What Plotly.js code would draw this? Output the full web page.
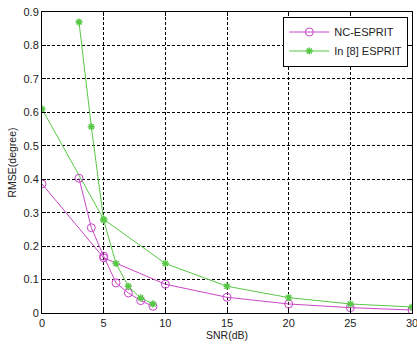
<!DOCTYPE html>
<html><head><meta charset="utf-8">
<script src="https://cdn.plot.ly/plotly-3.0.1.min.js"></script>
<style>body{margin:0;background:#fff}#c{width:417px;height:346px}</style>
</head><body><div id="c"></div>
<script>
const snrCoarse = [0, 5, 10, 15, 20, 25, 30];
const ncCoarse = [0.386, 0.165, 0.086, 0.047, 0.027, 0.016, 0.009];
const refCoarse = [0.61, 0.28, 0.148, 0.08, 0.046, 0.027, 0.018];
const snrFine = [3, 4, 5, 6, 7, 8, 9];
const ncFine = [0.403, 0.255, 0.17, 0.09, 0.06, 0.037, 0.02];
const refFine = [0.87, 0.557, 0.278, 0.148, 0.08, 0.045, 0.027];
const names = ['NC-ESPRIT', 'In [8] ESPRIT'];
const xTicks = [0, 5, 10, 15, 20, 25, 30];
const yTicks = [0, 0.1, 0.2, 0.3, 0.4, 0.5, 0.6, 0.7, 0.8, 0.9];

const mag = '#c846c8', grn = '#58c846';
function ncStyle(){ return {mode:'lines+markers', line:{color:mag, width:1}, marker:{symbol:'circle-open', size:8, color:mag, line:{width:1, color:mag}}}; }
function rfStyle(){ return {mode:'lines+markers', line:{color:grn, width:1}, marker:{symbol:'asterisk-open', size:6, color:grn, line:{width:1.5, color:grn}}}; }
const traces = [
  Object.assign({x:snrCoarse, y:ncCoarse, name:names[0], showlegend:true}, ncStyle()),
  Object.assign({x:snrCoarse, y:refCoarse, name:names[1], showlegend:true}, rfStyle()),
  Object.assign({x:snrFine, y:ncFine, name:names[0], showlegend:false}, ncStyle()),
  Object.assign({x:snrFine, y:refFine, name:names[1], showlegend:false}, rfStyle())
];
const fnt = 'Arial, Liberation Sans, sans-serif';
const axisBase = {showline:true, mirror:'ticks', linecolor:'#000', linewidth:1, ticks:'inside', ticklen:4, tickcolor:'#000',
  showgrid:true, gridcolor:'#000', griddash:'3px,2px', gridwidth:1, zeroline:false, ticklabeloverflow:'allow',
  tickfont:{family:fnt, size:11, color:'#222'}};
const layout = {
  width:417, height:346, paper_bgcolor:'#fff', plot_bgcolor:'#fff',
  margin:{l:42, r:5, t:12, b:33},
  xaxis:Object.assign({}, axisBase, {range:[0,30], tickvals:xTicks, ticktext:xTicks.map(String),
    title:{text:'SNR(dB)', standoff:1, font:{family:fnt, size:10.5, color:'#222'}}}),
  yaxis:Object.assign({}, axisBase, {range:[0,0.9], tickvals:yTicks, ticktext:yTicks.map(v=>v===0?'0':String(v)),
    title:{text:'RMSE(degree)', standoff:4, font:{family:fnt, size:10.5, color:'#222'}}}),
  showlegend:true,
  legend:{x:0.99, y:0.985, xanchor:'right', yanchor:'top', bgcolor:'#fff', bordercolor:'#000', borderwidth:1,
    font:{family:fnt, size:11, color:'#222'}, tracegroupgap:0, itemwidth:40}
};
Plotly.newPlot('c', traces, layout, {displayModeBar:false, staticPlot:true});
</script></body></html>
